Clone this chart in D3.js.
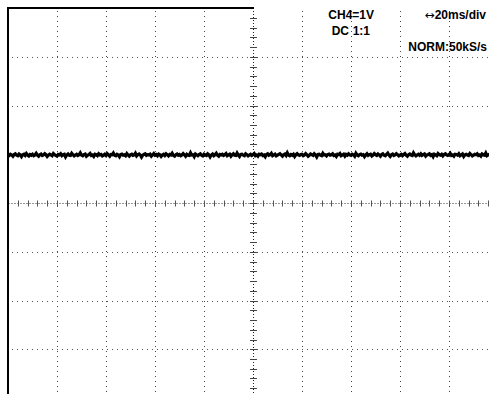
<!DOCTYPE html>
<html>
<head>
<meta charset="utf-8">
<script src="https://cdn.jsdelivr.net/npm/d3@7"></script>
<style>
  body { margin: 0; background: #fff; }
  svg { display: block; }
  .lbl { font-family: "Liberation Sans", Arial, sans-serif; font-size: 12px; font-weight: bold; fill: #000; }
  .arrow { font-family: "DejaVu Sans", sans-serif; font-weight: normal; font-size: 12px; }
</style>
</head>
<body>
<div id="scope"></div>
<script>
const width = 489
const height = 394

// horizontal: 10 div x 20 ms, vertical: 8 div x 1 V (CH4)
const timeDomain = [-100, 100]   // ms
const voltDomain = [-4000, 4000] // mV
const divTimes = [-80, -60, -40, -20, 0, 20, 40, 60, 80]
const divVolts = [-3000, -2000, -1000, 0, 1000, 2000, 3000]
const sampleStep = 0.5 // ms

const labels = [
    { text: "CH4=1V", x: 374, y: 19 },
    { text: "DC", x: 349, y: 35 },
    { text: "1:1", x: 370, y: 35 },
    { text: "20ms/div", x: 486, y: 19, arrow: "\u2194" },
    { text: "NORM:50kS/s", x: 487, y: 51 }
]

// CH4 trace in mV, one sample every 0.5 ms
const traceMv = [
    990,975,1000,985,960,995,1010,980,970,1005,985,950,990,1000,975,1015,985,965,995,980,
    1000,970,985,1020,980,960,990,1005,975,985,1010,990,955,980,1000,985,970,1015,990,975,
    960,995,985,1010,970,990,1000,945,985,1005,980,975,1020,990,965,985,1000,975,990,1030,
    985,970,995,1005,960,980,990,1015,975,985,955,1000,990,970,1010,985,995,965,980,1000,
    975,1010,985,960,995,990,1025,980,970,1000,985,950,995,1005,980,990,970,1015,985,960,
    990,1000,975,985,1020,965,990,1005,985,940,980,995,1010,975,990,985,1000,960,985,1015,
    980,995,970,1005,990,955,985,1000,975,1010,990,965,995,985,1020,975,960,990,1005,980,
    995,970,985,1015,990,960,1000,980,975,1030,985,990,950,1005,985,970,995,1010,980,965,
    1000,985,975,1010,990,945,985,1005,970,990,1020,980,960,995,985,1000,975,990,1015,970,
    985,1000,960,990,1010,980,975,1025,985,955,995,1000,980,970,1010,990,965,985,1000,975,
    990,1015,970,985,960,1000,990,1005,975,985,950,995,1010,980,990,1020,970,985,1000,965,
    980,995,1010,985,960,990,1005,975,1030,985,970,995,980,1000,955,990,1010,985,975,995,
    1000,970,985,1015,990,960,980,1005,990,975,1010,985,945,995,1000,980,970,1020,985,990,
    965,995,1005,980,990,1010,975,985,955,1000,990,1015,970,985,1000,960,995,980,1010,985,
    975,1000,990,960,1020,985,970,995,1005,980,990,950,985,1010,975,990,1000,965,985,1015,
    990,975,1005,985,960,995,1010,980,970,1000,1025,985,955,990,1005,975,985,1010,990,965,
    985,1000,970,995,1015,980,960,990,1005,985,975,1030,990,965,985,1000,980,1010,975,990,
    1005,960,985,995,1010,975,990,950,1000,985,970,1015,990,980,1000,965,995,1010,985,975,
    990,1020,975,985,960,1000,995,980,1010,970,985,1005,955,990,1000,985,975,1015,990,965,
    980,1000,990,1010,975,985,960,1005,990,980,1025,970,985,1000,995,960,985,1010,980,990
]

let x = d3.scaleLinear().domain(timeDomain).range([8, 498])
let y = d3.scaleLinear().domain(voltDomain).range([398, 8])

let svg = d3.select("#scope").append("svg")
    .attr("width", width)
    .attr("height", height)

// dotted graticule
svg.append("g").selectAll("line")
    .data(divTimes.filter(d => d !== 0))
    .enter().append("line")
    .attr("x1", d => Math.round(x(d)) + 0.5)
    .attr("x2", d => Math.round(x(d)) + 0.5)
    .attr("y1", y(4000) + 3)
    .attr("y2", height)
    .style("stroke", "#444")
    .style("stroke-dasharray", "1,4")

svg.append("g").selectAll("line")
    .data(divVolts.filter(d => d !== 0))
    .enter().append("line")
    .attr("y1", d => Math.round(y(d)) + 0.5)
    .attr("y2", d => Math.round(y(d)) + 0.5)
    .attr("x1", x(-100) + 4)
    .attr("x2", width)
    .style("stroke", "#555")
    .style("stroke-dasharray", "1,4")

// center axes
let cx = Math.round(x(0)) + 0.5
let cy = Math.round(y(0)) + 0.5

svg.append("line")
    .attr("x1", x(-100)).attr("x2", width)
    .attr("y1", cy).attr("y2", cy)
    .style("stroke", "#999")
    .style("stroke-dasharray", "2,1")

svg.append("line")
    .attr("x1", cx).attr("x2", cx)
    .attr("y1", y(4000)).attr("y2", height)
    .style("stroke", "#222")
    .style("stroke-dasharray", "1,2")

// minor ticks, 5 per division
svg.append("g").selectAll("line")
    .data(d3.range(-96, 100, 4))
    .enter().append("line")
    .attr("x1", d => Math.round(x(d)) + 0.5)
    .attr("x2", d => Math.round(x(d)) + 0.5)
    .attr("y1", cy - 3)
    .attr("y2", cy + 3)
    .style("stroke", "#555")

svg.append("g").selectAll("line")
    .data(d3.range(-3800, 4000, 200))
    .enter().append("line")
    .attr("y1", d => Math.round(y(d)) + 0.5)
    .attr("y2", d => Math.round(y(d)) + 0.5)
    .attr("x1", cx - 3.5)
    .attr("x2", cx + 3.5)
    .style("stroke", "#444")

// frame: left edge and top edge up to the center
svg.append("line")
    .attr("x1", x(-100)).attr("x2", x(-100))
    .attr("y1", y(4000) - 1).attr("y2", height)
    .style("stroke", "#000").style("stroke-width", 2)

svg.append("line")
    .attr("x1", x(-100) - 1).attr("x2", cx + 0.5)
    .attr("y1", y(4000)).attr("y2", y(4000))
    .style("stroke", "#000").style("stroke-width", 2)

// trace
let line = d3.line()
    .x((d, i) => x(timeDomain[0] + i * sampleStep))
    .y(d => y(d))

svg.append("path")
    .datum(traceMv)
    .attr("d", line)
    .style("fill", "none")
    .style("stroke", "#000")
    .style("stroke-width", 3.2)

// readout text
let txt = svg.append("g").selectAll("text")
    .data(labels)
    .enter().append("text")
    .attr("class", "lbl")
    .attr("x", d => d.x)
    .attr("y", d => d.y)
    .attr("text-anchor", "end")

txt.filter(d => d.arrow).append("tspan")
    .attr("class", "arrow")
    .text(d => d.arrow)

txt.append("tspan")
    .text(d => d.text)
</script>
</body>
</html>
